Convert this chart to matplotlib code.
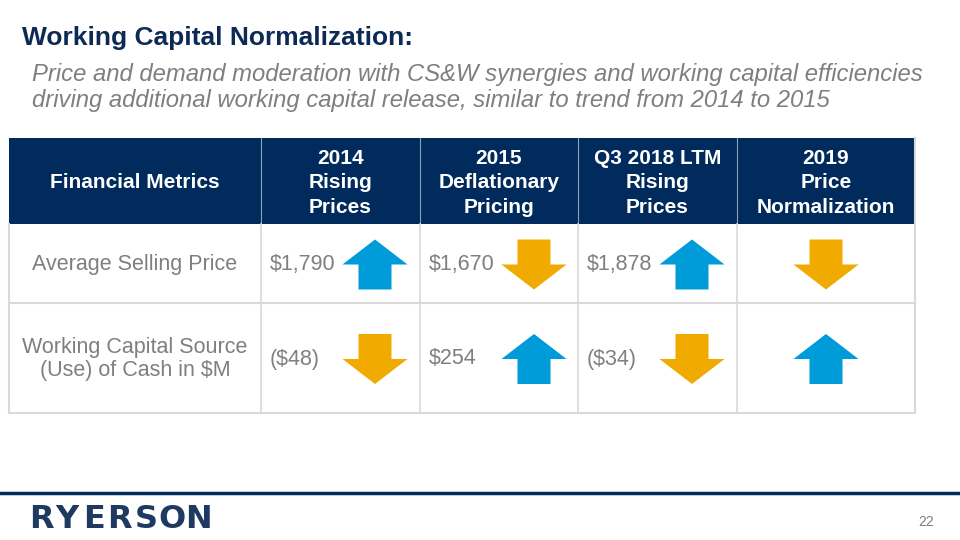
import matplotlib
matplotlib.use("Agg")
import matplotlib.pyplot as plt
from matplotlib.patches import Rectangle, Polygon

# Slide text
title = "Working Capital Normalization:"
subtitle = ["Price and demand moderation with CS&W synergies and working capital efficiencies",
            "driving additional working capital release, similar to trend from 2014 to 2015"]

# Table content
col_headers = ["Financial Metrics",
               "2014\nRising\nPrices",
               "2015\nDeflationary\nPricing",
               "Q3 2018 LTM\nRising\nPrices",
               "2019\nPrice\nNormalization"]
row_labels = ["Average Selling Price", "Working Capital Source\n(Use) of Cash in $M"]
price_values = ["$1,790", "$1,670", "$1,878", ""]
wc_values = ["($48)", "$254", "($34)", ""]
price_dirs = ["up", "down", "up", "down"]
wc_dirs = ["down", "up", "down", "up"]

NAVY = "#002B5C"
TITLE_C = "#0D2A55"
GRAY = "#7F7F7F"
BLUE = "#009BD9"
ORANGE = "#F0AA00"
GRID = "#D9D9D9"

plt.rcParams['font.family'] = ['Liberation Sans', 'DejaVu Sans']

fig = plt.figure(figsize=(9.6, 5.4), dpi=100)
ax = fig.add_axes([0, 0, 1, 1])
ax.set_xlim(0, 960)
ax.set_ylim(540, 0)
ax.axis('off')

# Title and subtitle
ax.text(22, 38, title, fontsize=19, fontweight='bold', color=TITLE_C, va='center', ha='left')
for i, line in enumerate(subtitle):
    ax.text(32, 74 + i * 26.5, line, fontsize=17.2, style='italic', color=GRAY, va='center', ha='left')

# Table geometry
col_x = [9, 261, 420, 578, 737, 915]
row_y = [138, 224, 303, 413]

# header band
ax.add_patch(Rectangle((col_x[0], row_y[0]), col_x[-1] - col_x[0], row_y[1] - row_y[0],
                       facecolor=NAVY, edgecolor='none'))
for j, h in enumerate(col_headers):
    cx = (col_x[j] + col_x[j + 1]) / 2
    ax.text(cx, (row_y[0] + row_y[1]) / 2 + 2, h, fontsize=15, fontweight='bold', color='white',
            ha='center', va='center', linespacing=1.36)

# grid lines
for x in col_x[1:-1]:
    ax.plot([x, x], [row_y[0], row_y[1]], color="#8EA0B8", lw=0.8)
    ax.plot([x, x], [row_y[1], row_y[-1]], color=GRID, lw=1.2)
for y in row_y[2:]:
    ax.plot([col_x[0], col_x[-1]], [y, y], color=GRID, lw=1.5)
ax.plot([col_x[0], col_x[0]], [row_y[1], row_y[-1]], color=GRID, lw=1.5)
ax.plot([col_x[-1], col_x[-1]], [row_y[0], row_y[-1]], color=GRID, lw=1.5)


def arrow(cx, cy, direction, w=65, h=50, shaft=33):
    head = h / 2
    s = shaft / 2
    top, bot = cy - h / 2, cy + h / 2
    if direction == "up":
        pts = [(cx, top), (cx + w / 2, top + head), (cx + s, top + head), (cx + s, bot),
               (cx - s, bot), (cx - s, top + head), (cx - w / 2, top + head)]
        color = BLUE
    else:
        pts = [(cx, bot), (cx + w / 2, bot - head), (cx + s, bot - head), (cx + s, top),
               (cx - s, top), (cx - s, bot - head), (cx - w / 2, bot - head)]
        color = ORANGE
    ax.add_patch(Polygon(pts, closed=True, facecolor=color, edgecolor='none'))


rows = [(price_values, price_dirs), (wc_values, wc_dirs)]
for i, (vals, dirs) in enumerate(rows):
    cy = (row_y[i + 1] + row_y[i + 2]) / 2
    ax.text((col_x[0] + col_x[1]) / 2, cy + 1, row_labels[i], fontsize=15.5, color=GRAY,
            ha='center', va='center', linespacing=1.1)
    for j in range(4):
        left = col_x[j + 1]
        if vals[j]:
            ax.text(left + 9, cy + 1, vals[j], fontsize=15.5, color=GRAY, ha='left', va='center')
            ax_x = left + 114
        else:
            ax_x = (col_x[j + 1] + col_x[j + 2]) / 2
        arrow(ax_x, cy + 1, dirs[j])

# footer
ax.plot([0, 960], [493, 493], color=NAVY, lw=2.5)
for k, ch in enumerate("RYERSON"):
    ax.text(41 + k * 26.3, 519, ch, fontsize=23, fontweight='bold', color="#1E3A60",
            family='DejaVu Sans', ha='center', va='center')
ax.text(934, 522, "22", fontsize=10, color=GRAY, ha='right', va='center')

fig.savefig("out.png", dpi=100)
